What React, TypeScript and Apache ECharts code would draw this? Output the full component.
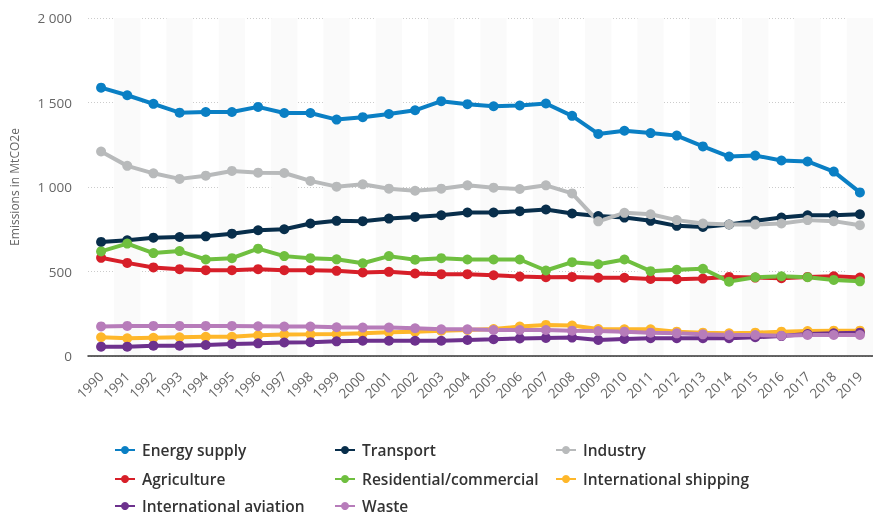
import React, { useEffect, useRef } from "react";
import * as echarts from "echarts";

const years = ["1990","1991","1992","1993","1994","1995","1996","1997","1998","1999","2000","2001","2002","2003","2004","2005","2006","2007","2008","2009","2010","2011","2012","2013","2014","2015","2016","2017","2018","2019"];

const energySupply = [1588, 1543, 1492, 1440, 1444, 1444, 1474, 1438, 1438, 1399, 1413, 1432, 1454, 1508, 1490, 1478, 1482, 1494, 1421, 1314, 1333, 1319, 1304, 1240, 1180, 1186, 1157, 1151, 1091, 968];
const transport = [675, 685, 700, 704, 708, 724, 744, 750, 784, 800, 798, 813, 823, 833, 849, 849, 857, 867, 843, 828, 819, 800, 770, 764, 778, 800, 819, 833, 833, 839];
const industry = [1210, 1125, 1081, 1048, 1067, 1095, 1085, 1083, 1036, 1002, 1016, 990, 978, 990, 1010, 996, 988, 1010, 962, 797, 847, 839, 804, 784, 778, 778, 784, 804, 798, 774];
const agriculture = [581, 551, 524, 514, 508, 508, 514, 508, 508, 504, 494, 498, 488, 484, 484, 478, 470, 466, 468, 463, 463, 456, 454, 458, 468, 464, 460, 468, 472, 464];
const residential = [619, 665, 609, 621, 571, 579, 635, 591, 579, 572, 549, 591, 570, 579, 571, 571, 571, 506, 555, 543, 571, 502, 510, 516, 440, 466, 472, 466, 450, 442];
const shipping = [111, 105, 108, 111, 114, 114, 123, 127, 128, 130, 134, 140, 144, 150, 154, 160, 174, 184, 180, 160, 158, 158, 144, 138, 134, 138, 144, 148, 150, 150];
const aviation = [55, 55, 61, 61, 65, 71, 75, 80, 82, 87, 90, 90, 90, 90, 95, 99, 104, 107, 109, 95, 101, 105, 105, 105, 105, 111, 118, 130, 134, 138];
const waste = [175, 178, 178, 178, 178, 178, 176, 174, 174, 170, 168, 168, 164, 158, 158, 154, 154, 154, 150, 148, 144, 138, 134, 128, 124, 124, 120, 124, 124, 124];

const seriesNames = ["Energy supply", "Transport", "Industry", "Agriculture", "Residential/commercial", "International shipping", "International aviation", "Waste"];
const seriesData = [energySupply, transport, industry, agriculture, residential, shipping, aviation, waste];
const seriesColors = ["#0a7fc4", "#082e4b", "#b8babb", "#d71f29", "#6fbf3f", "#feb72a", "#6d318d", "#b77cba"];

// legend grid: column index and row index of each series name
const legendCol = [0, 1, 2, 0, 1, 2, 0, 1];
const legendRow = [0, 0, 0, 1, 1, 1, 2, 2];
const legendColLefts = [114, 334, 555];
const legendRowTops = [442, 471, 498];

export default function App() {
  const ref = useRef<HTMLDivElement>(null);
  useEffect(() => {
    if (!ref.current) return;
    const chart = echarts.init(ref.current, null, { renderer: "svg" });
    const font = "'Open Sans', 'Noto Sans', sans-serif";
    chart.setOption({
      animation: false,
      textStyle: { fontFamily: font },
      grid: { left: 88, top: 18, width: 789, height: 338 },
      legend: seriesNames.map((name, i) => ({
        left: legendColLefts[legendCol[i]],
        top: legendRowTops[legendRow[i]],
        padding: 0,
        itemWidth: 20,
        itemHeight: 10,
        data: [name],
        textStyle: { fontFamily: font, fontSize: 15.5, fontWeight: 600, color: "#333", lineHeight: 16, padding: [0, 0, 0, 2] },
      })),
      xAxis: {
        type: "category",
        data: years,
        boundaryGap: true,
        axisLine: { show: true, lineStyle: { color: "#333", width: 1.5 } },
        axisTick: { show: false },
        axisLabel: { rotate: 45, margin: 18, color: "#666", fontSize: 13.5, fontFamily: font, interval: 0 },
        splitArea: { show: true, areaStyle: { color: ["rgba(255,255,255,0)", "#fafafa"] } },
      },
      yAxis: {
        type: "value",
        min: 0,
        max: 2000,
        interval: 500,
        name: "Emissions in MtCO2e",
        nameLocation: "middle",
        nameGap: 68,
        nameTextStyle: { color: "#666", fontSize: 12, fontFamily: font },
        axisLine: { show: false },
        axisTick: { show: false },
        axisLabel: {
          margin: 16,
          color: "#666",
          fontSize: 13.5,
          fontFamily: font,
          formatter: (v: number) => String(v).replace(/\B(?=(\d{3})+(?!\d))/g, " "),
        },
        splitLine: { lineStyle: { color: "#ccc", type: [1, 2], width: 1 } },
      },
      series: seriesNames.map((name, i) => ({
        name,
        type: "line",
        data: seriesData[i],
        symbol: "circle",
        symbolSize: 10,
        showAllSymbol: true,
        lineStyle: { width: 4, color: seriesColors[i] },
        itemStyle: { color: seriesColors[i] },
        emphasis: { disabled: true },
      })),
    });
    return () => chart.dispose();
  }, []);
  return <div ref={ref} style={{ position: "fixed", left: 0, top: 0, width: 873, height: 517 }} />;
}
